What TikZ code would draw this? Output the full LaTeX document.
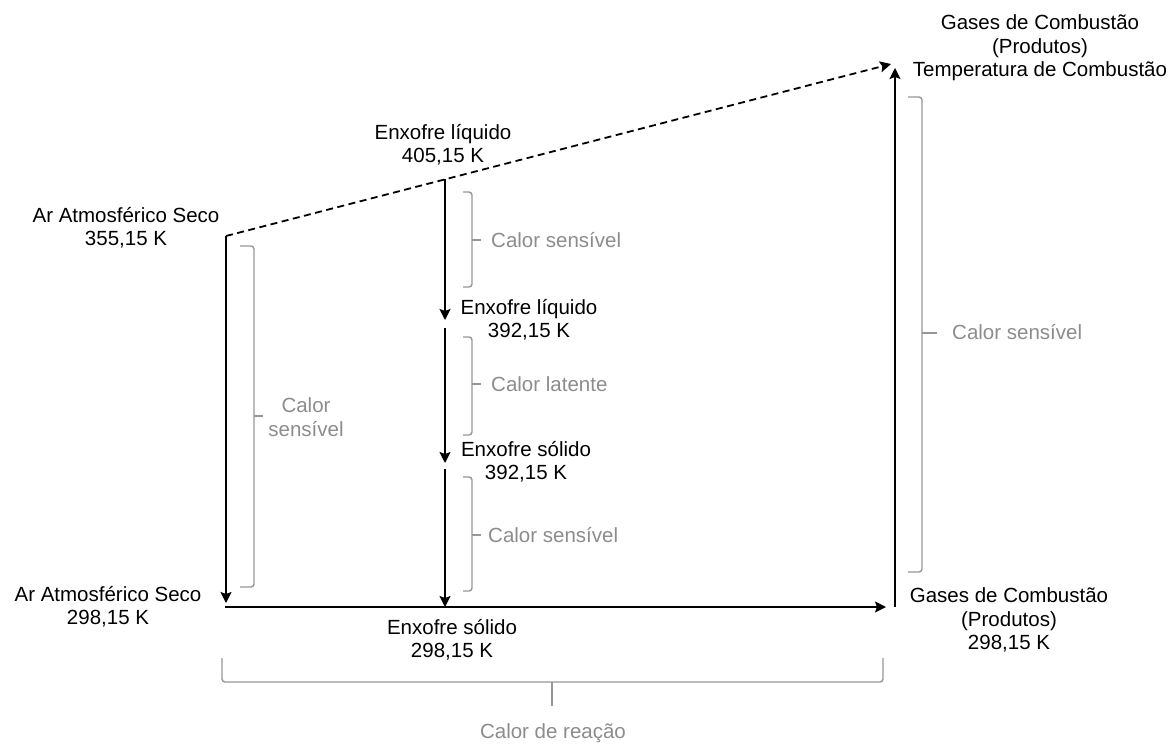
\documentclass[tikz,border=0pt]{standalone}
\usepackage{fontspec}
\setmainfont{Liberation Sans}
\usetikzlibrary{arrows.meta}
\definecolor{labelgray}{RGB}{140,140,140}
\definecolor{bracegray}{RGB}{150,150,150}
\begin{document}
\begin{tikzpicture}[x=1pt,y=-1pt,
  lbl/.style={font=\fontsize{20.5}{23.5}\selectfont, align=center, inner sep=0pt},
  glbl/.style={lbl, text=labelgray},
  flow/.style={line width=1.8pt, -{Stealth[length=11pt,width=11pt,inset=2pt]}},
  dashflow/.style={flow, dash pattern=on 7pt off 4.5pt},
  brace/.style={draw=bracegray, line width=1.4pt, rounded corners=3pt}
]
\useasboundingbox (0,0) rectangle (1175,744);

% state labels
\node[lbl] (arTop)   at (126,228)  {Ar Atmosférico Seco\\355,15 K};
\node[lbl] (arBot)   at (108,607)  {Ar Atmosférico Seco\\298,15 K};
\node[lbl] (sLiqTop) at (443,145)  {Enxofre líquido\\405,15 K};
\node[lbl] (sLiqMid) at (529,320)  {Enxofre líquido\\392,15 K};
\node[lbl] (sSolMid) at (526,462)  {Enxofre sólido\\392,15 K};
\node[lbl] (sSolBot) at (452,640)  {Enxofre sólido\\298,15 K};
\node[lbl] (gasBot)  at (1009,620) {Gases de Combustão\\(Produtos)\\298,15 K};
\node[lbl] (gasTop)  at (1040,48)  {Gases de Combustão\\(Produtos)\\Temperatura de Combustão};

% path points
\coordinate (pAr)  at (226,236);
\coordinate (pArB) at (226,603);
\coordinate (pH0)  at (225,607);
\coordinate (pH1)  at (886,607);
\coordinate (pG0)  at (895,607);
\coordinate (pG1)  at (895,68);
\coordinate (pGd)  at (891,64);
\coordinate (m0)   at (445,179.4);
\coordinate (m1)   at (445,320);
\coordinate (m1b)  at (445,328);
\coordinate (m2)   at (445,463);
\coordinate (m2b)  at (445,469);
\coordinate (m3)   at (445,607);

% process arrows
\draw[dashflow] (pAr) -- (pGd);
\draw[flow] (pAr) -- (pArB);
\draw[flow] (pH0) -- (pH1);
\draw[flow] (pG0) -- (pG1);
\draw[flow] (m0) -- (m1);
\draw[flow] (m1b) -- (m2);
\draw[flow] (m2b) -- (m3);

% braces
\draw[brace] (240,246) -- (254,246) -- (254,587) -- (240,587);
\draw[brace] (254,416) -- (263,416);
\draw[brace] (463,192) -- (472,192) -- (472,287) -- (463,287);
\draw[brace] (472,240) -- (481,240);
\draw[brace] (463,337) -- (472,337) -- (472,435) -- (463,435);
\draw[brace] (472,384) -- (481,384);
\draw[brace] (463,477) -- (472,477) -- (472,591) -- (463,591);
\draw[brace] (472,535) -- (481,535);
\draw[brace] (908,97) -- (922,97) -- (922,572) -- (908,572);
\draw[brace] (922,333) -- (937,333);
\draw[brace] (222,658) -- (222,682) -- (883,682) -- (883,658);
\draw[brace] (552,682) -- (552,706);

% heat labels
\node[glbl, anchor=west] (cs1) at (491,240) {Calor sensível};
\node[glbl, anchor=west] (cl)  at (491,384) {Calor latente};
\node[glbl, anchor=west] (cs2) at (488,535) {Calor sensível};
\node[glbl, anchor=west] (cs3) at (952,332) {Calor sensível};
\node[glbl] (csL) at (306,417) {Calor\\sensível};
\node[glbl] (cr)  at (553,733) {Calor de reação};
\end{tikzpicture}
\end{document}
